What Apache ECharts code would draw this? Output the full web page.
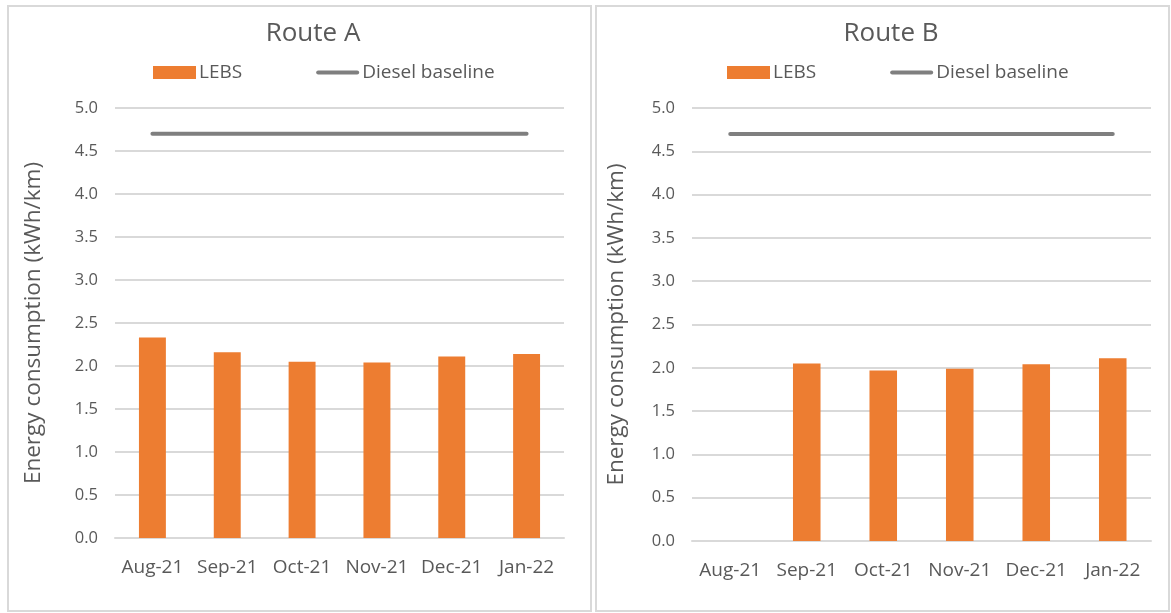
<!DOCTYPE html>
<html>
<head>
<meta charset="utf-8">
<title>Energy consumption</title>
<script src="https://cdn.jsdelivr.net/npm/echarts@6/dist/echarts.min.js"></script>
<style>
  body { margin: 0; background: #fff; }
  .panel { position: absolute; top: 5px; height: 603px; border: 2px solid #d9d9d9; box-sizing: content-box; }
  #routeA { left: 7px; width: 581px; }
  #routeB { left: 595px; width: 571px; }
</style>
</head>
<body>
<div id="routeA" class="panel"></div>
<div id="routeB" class="panel"></div>
<script>
var months = ['Aug-21', 'Sep-21', 'Oct-21', 'Nov-21', 'Dec-21', 'Jan-22'];
var lebsA = [2.33, 2.16, 2.05, 2.04, 2.11, 2.14];
var lebsB = [null, 2.05, 1.97, 1.99, 2.04, 2.11];
var dieselA = [4.7, 4.7, 4.7, 4.7, 4.7, 4.7];
var dieselB = [4.7, 4.7, 4.7, 4.7, 4.7, 4.7];

var FONT = '"Open Sans", "Noto Sans", sans-serif';
var TXT = '#595959';

function makeOption(title, lebs, diesel, box) {
    return {
        textStyle: { fontFamily: FONT },
        title: {
            text: title,
            left: box.titleX,
            top: 9,
            textAlign: 'center',
            textStyle: { fontSize: 26, fontWeight: 'normal', color: TXT, fontFamily: FONT }
        },
        legend: {
            left: box.legendX,
            top: 51,
            itemGap: 74,
            itemWidth: 43,
            itemHeight: 13,
            textStyle: { fontSize: 19, color: TXT, fontFamily: FONT, padding: [0, 0, 0, -2] },
            data: [
                { name: 'LEBS', icon: 'rect' },
                { name: 'Diesel baseline', icon: 'path://M2,0 L41,0 A2,2 0 0 1 41,4 L2,4 A2,2 0 0 1 2,0 Z' }
            ]
        },
        grid: { left: box.left, top: 101, width: box.width, height: box.height },
        xAxis: {
            type: 'category',
            data: months,
            axisLine: { lineStyle: { color: '#d9d9d9', width: 2 } },
            axisTick: { show: false },
            axisLabel: { color: TXT, fontSize: 19, margin: 20, interval: 0, fontFamily: FONT }
        },
        yAxis: {
            type: 'value',
            min: 0,
            max: 5,
            interval: 0.5,
            name: 'Energy consumption (kWh/km)',
            nameLocation: 'middle',
            nameGap: box.nameGap,
            nameTextStyle: { fontSize: 22.5, color: TXT, fontFamily: FONT },
            axisLine: { show: false },
            axisTick: { show: false },
            axisLabel: {
                color: TXT, fontSize: 16.5, margin: 17, fontFamily: FONT,
                formatter: function (v) { return v.toFixed(1); }
            },
            splitLine: { lineStyle: { color: '#d9d9d9', width: 2 } }
        },
        series: [
            {
                name: 'LEBS',
                type: 'bar',
                data: lebs,
                barWidth: '36%',
                itemStyle: { color: '#ED7D31' }
            },
            {
                name: 'Diesel baseline',
                type: 'line',
                data: diesel,
                symbol: 'none',
                itemStyle: { color: '#7F7F7F' },
                lineStyle: { color: '#7F7F7F', width: 4, cap: 'round' }
            }
        ]
    };
}

var chartA = echarts.init(document.getElementById('routeA'));
chartA.setOption(makeOption('Route A', lebsA, dieselA,
    { left: 106, width: 449, height: 430, titleX: 299, legendX: 139, nameGap: 70 }));

var chartB = echarts.init(document.getElementById('routeB'));
chartB.setOption(makeOption('Route B', lebsB, dieselB,
    { left: 93, width: 461, height: 433, titleX: 289, legendX: 125, nameGap: 64 }));
</script>
</body>
</html>
